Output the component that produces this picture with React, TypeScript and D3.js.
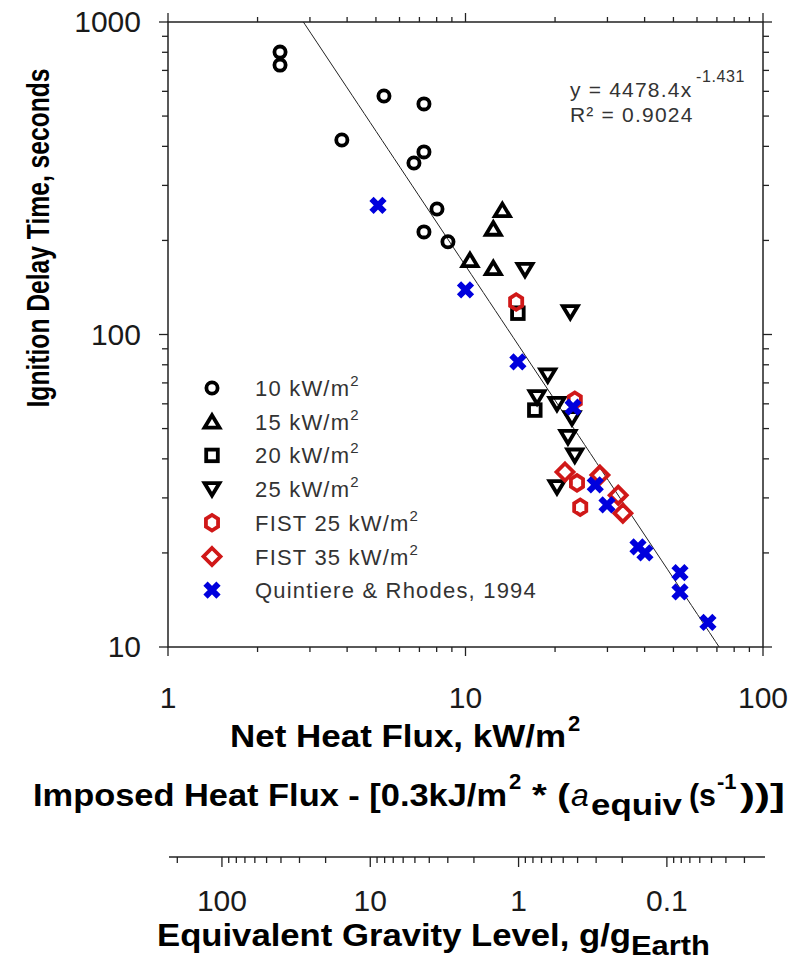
import React from 'react';
import * as d3 from 'd3';

// net heat flux (kW/m2) vs ignition delay time (s)
const c10X = [2.38, 2.38, 3.84, 5.32, 7.25, 7.25, 6.71, 8.02, 7.25, 8.73];
const c10Y = [801, 728, 419, 580, 547, 384, 354, 252, 213, 198];
const t15X = [13.3, 12.4, 10.35, 12.4];
const t15Y = [250, 218, 173, 163];
const s20X = [15, 17.1];
const s20Y = [117, 57.3];
const t25X = [15.85, 22.5, 18.9, 17.4, 20.3, 22.8, 22.1, 23.3, 20.3];
const t25Y = [161, 118, 74, 63, 60, 54, 47, 41, 32.5];
const f25X = [14.8, 23.3, 23.7, 24.3];
const f25Y = [127, 61.6, 33.5, 28];
const f35X = [21.6, 28.3, 32.6, 33.8];
const f35Y = [36.3, 35.5, 30.6, 26.8];
const qrX = [5.08, 10.0, 15, 23, 27.3, 29.9, 38, 40.1, 52.6, 52.6, 65.3];
const qrY = [259, 139, 81.7, 58.6, 33, 28.5, 20.9, 20, 17.3, 15, 12];

const legendLabels = ['10 kW/m', '15 kW/m', '20 kW/m', '25 kW/m', 'FIST 25 kW/m', 'FIST 35 kW/m', 'Quintiere & Rhodes, 1994'];
const legendSup = [true, true, true, true, true, true, false];

const fitA = 4478.4;
const fitB = -1.431;

const xTickLabels = [1, 10, 100];
const yTickLabels = [10, 100, 1000];
const gTickLabels = [100, 10, 1, 0.1];

const BLACK = '#000';
const RED = '#d01818';
const BLUE = '#0000dd';

const x = d3.scaleLog().domain([1, 100]).range([168, 763]);
const y = d3.scaleLog().domain([10, 1000]).range([647, 22]);
const g = d3.scaleLog().domain([227.5, 0.0218]).range([169, 765]);

const isMajor = (v: number) => Math.abs(Math.log10(v) - Math.round(Math.log10(v))) < 1e-6;

const hexPath = (() => {
  const pts = d3.range(6).map(i => {
    const a = Math.PI / 6 + (i * Math.PI) / 3;
    return [7 * Math.cos(a), 7.8 * Math.sin(a)];
  });
  return 'M' + pts.map(p => p.join(',')).join('L') + 'Z';
})();

const SW = 3.8;

const Marker = ({ shape, cx, cy }: { shape: string; cx: number; cy: number }) => {
  const t = `translate(${cx},${cy})`;
  if (shape === 'circle')
    return <circle cx={cx} cy={cy} r={5.6} fill="none" stroke={BLACK} strokeWidth={SW} />;
  if (shape === 'tri')
    return <path transform={t} d="M0,-6.5L7.5,6L-7.5,6Z" fill="none" stroke={BLACK} strokeWidth={SW} />;
  if (shape === 'itri')
    return <path transform={t} d="M0,6.5L7.5,-6L-7.5,-6Z" fill="none" stroke={BLACK} strokeWidth={SW} />;
  if (shape === 'square')
    return <rect x={cx - 5.8} y={cy - 5.8} width={11.6} height={11.6} fill="none" stroke={BLACK} strokeWidth={SW} />;
  if (shape === 'hex')
    return <path transform={t} d={hexPath} fill="none" stroke={RED} strokeWidth={SW} />;
  if (shape === 'diamond')
    return <path transform={t} d="M0,-8.5L8.5,0L0,8.5L-8.5,0Z" fill="none" stroke={RED} strokeWidth={SW} />;
  return <path transform={t} d="M-6.5,-6.5L6.5,6.5M-6.5,6.5L6.5,-6.5" fill="none" stroke={BLUE} strokeWidth={6} />;
};

const series = [
  { shape: 'circle', xs: c10X, ys: c10Y },
  { shape: 'tri', xs: t15X, ys: t15Y },
  { shape: 'square', xs: s20X, ys: s20Y },
  { shape: 'itri', xs: t25X, ys: t25Y },
  { shape: 'hex', xs: f25X, ys: f25Y },
  { shape: 'diamond', xs: f35X, ys: f35Y },
  { shape: 'cross', xs: qrX, ys: qrY },
];

const font = 'Liberation Sans, Arial, Helvetica, sans-serif';

export default function App() {
  const [x0, x1] = x.range();
  const [y0, y1] = y.range();
  const fitPts = d3.range(0, 2.0001, 0.02).map(p => {
    const v = Math.pow(10, p);
    return [x(v), y(fitA * Math.pow(v, fitB))] as [number, number];
  });
  const line = d3.line();
  const axisCol = '#222';

  return (
    <div style={{ position: 'absolute', left: 0, top: 0 }}>
      <svg width={791} height={962} style={{ display: 'block', background: '#fff' }} fontFamily={font}>
        <defs>
          <clipPath id="plot">
            <rect x={x0} y={y1} width={x1 - x0} height={y0 - y1} />
          </clipPath>
        </defs>

        {/* frame */}
        <rect x={x0} y={y1} width={x1 - x0} height={y0 - y1} fill="none" stroke={axisCol} strokeWidth={1.5} />

        {/* ticks on all four sides, pointing outward */}
        {x.ticks().map((v, i) => {
          const L = isMajor(v) ? 9 : 5;
          return (
            <g key={'xt' + i} stroke={axisCol} strokeWidth={1.3}>
              <line x1={x(v)} x2={x(v)} y1={y0} y2={y0 + L} />
              <line x1={x(v)} x2={x(v)} y1={y1} y2={y1 - L} />
            </g>
          );
        })}
        {y.ticks().map((v, i) => {
          const L = isMajor(v) ? 9 : 6;
          return (
            <g key={'yt' + i} stroke={axisCol} strokeWidth={1.3}>
              <line x1={x0} x2={x0 - L} y1={y(v)} y2={y(v)} />
              <line x1={x1} x2={x1 + L} y1={y(v)} y2={y(v)} />
            </g>
          );
        })}
        {xTickLabels.map(v => (
          <text key={'xl' + v} x={x(v)} y={708} fontSize={30} textAnchor="middle" fill="#1a1a1a">{v}</text>
        ))}
        {yTickLabels.map(v => (
          <text key={'yl' + v} x={141} y={y(v) + 10} fontSize={30} textAnchor="end" fill="#1a1a1a">{v}</text>
        ))}

        {/* power-law fit */}
        <path d={line(fitPts) || ''} clipPath="url(#plot)" fill="none" stroke="#222" strokeWidth={1} />

        {/* data */}
        {series.map(s =>
          s.xs.map((v, i) => <Marker key={s.shape + i} shape={s.shape} cx={x(v)} cy={y(s.ys[i])} />)
        )}

        {/* equation */}
        <g fill="#333" fontSize={21} letterSpacing={1.2}>
          <text x={570} y={97}>y = 4478.4x</text>
          <text x={696} y={82} fontSize={16} letterSpacing={0.6}>-1.431</text>
          <text x={570} y={122}>R² = 0.9024</text>
        </g>

        {/* legend */}
        {series.map((s, i) => {
          const ly = 388 + i * 33.7;
          return (
            <g key={'lg' + i}>
              <Marker shape={s.shape} cx={212} cy={ly} />
              <text x={255} y={ly + 8} fontSize={22} letterSpacing={1.2} fill="#333">
                {legendLabels[i]}
                {legendSup[i] && <tspan dy={-10} fontSize={15}>2</tspan>}
              </text>
            </g>
          );
        })}

        {/* y title, condensed */}
        <text transform="translate(49,238) rotate(-90) scale(0.77,1)" textAnchor="middle" fontSize={32} fontWeight="bold"
          fill="#000">Ignition Delay Time, seconds</text>

        {/* x titles */}
        <g fontWeight="bold" fill="#000">
          <text x={230} y={747} fontSize={32} textLength={336} lengthAdjust="spacingAndGlyphs">Net Heat Flux, kW/m</text>
          <text x={568} y={731} fontSize={22}>2</text>

          <text x={33} y={806} fontSize={32} textLength={474} lengthAdjust="spacingAndGlyphs">Imposed Heat Flux - [0.3kJ/m</text>
          <text x={509} y={789} fontSize={22}>2</text>
          <text x={532} y={806} fontSize={32} textLength={38} lengthAdjust="spacingAndGlyphs"> * (</text>
          <text x={571} y={806} fontSize={32} fontStyle="italic" fontWeight="normal">a</text>
          <text x={591} y={815} fontSize={30} textLength={91} lengthAdjust="spacingAndGlyphs">equiv</text>
          <text x={689} y={806} fontSize={32} textLength={27} lengthAdjust="spacingAndGlyphs">(s</text>
          <text x={717} y={789} fontSize={22}>-1</text>
          <text x={740} y={806} fontSize={32} textLength={45} lengthAdjust="spacingAndGlyphs">))]</text>
        </g>

        {/* equivalent gravity axis */}
        <line x1={g.range()[0]} x2={g.range()[1]} y1={857} y2={857} stroke={axisCol} strokeWidth={1.5} />
        {g.ticks().map((v, i) => (
          <line key={'gt' + i} x1={g(v)} x2={g(v)} y1={857} y2={857 + (isMajor(v) ? 10 : 6)} stroke={axisCol} strokeWidth={1.3} />
        ))}
        {gTickLabels.map(v => (
          <text key={'gl' + v} x={g(v)} y={911} fontSize={30} textAnchor="middle" fill="#1a1a1a">{v}</text>
        ))}
        <g fontWeight="bold" fill="#000">
          <text x={157} y={946} fontSize={32} textLength={474} lengthAdjust="spacingAndGlyphs">Equivalent Gravity Level, g/g</text>
          <text x={631} y={955} fontSize={28} textLength={79} lengthAdjust="spacingAndGlyphs">Earth</text>
        </g>
      </svg>
    </div>
  );
}
